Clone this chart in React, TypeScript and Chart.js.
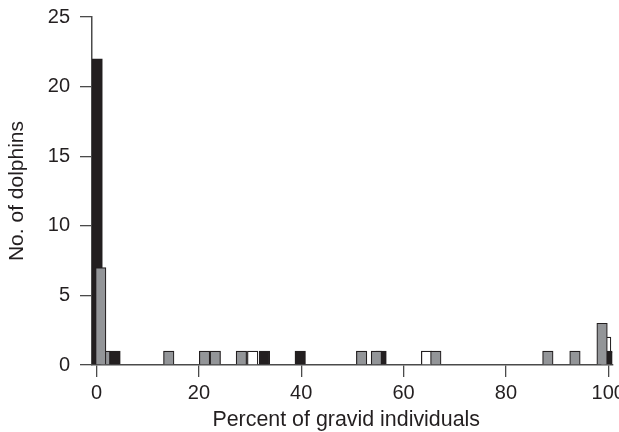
import { useEffect, useRef } from 'react';
import { Chart, registerables } from 'chart.js';

Chart.register(...registerables);

// bars: [percent of gravid individuals, no. of dolphins]
const blackBars = [[0.1, 22], [3.6, 1], [32.8, 1], [39.8, 1], [55.6, 1], [100.4, 1]];
const grayBars = [
  [1.6, 1], [0.8, 7], [14.1, 1], [21.1, 1], [23.2, 1], [28.3, 1],
  [51.8, 1], [54.7, 1], [66.3, 1], [88.2, 1], [93.5, 1], [98.8, 3],
];
const whiteBars = [[30.5, 1], [64.5, 1], [99.5, 2]];

const xTickValues = [0, 20, 40, 60, 80, 100];
const yTickValues = [0, 5, 10, 15, 20, 25];

const ink = '#231f20';
const axisColor = '#4a4a4a';
const fontFamily = '"Liberation Sans", Arial, Helvetica, sans-serif';

const toPoints = (list: number[][]) => list.map(([x, y]) => ({ x, y }));

const App = () => {
  const canvasRef = useRef<HTMLCanvasElement | null>(null);

  useEffect(() => {
    document.body.style.margin = '0';
    if (!canvasRef.current) return;

    const barStyle = {
      borderColor: ink,
      borderWidth: 1.2,
      barThickness: 10.5,
      grouped: false,
    };

    const chart = new Chart(canvasRef.current, {
      type: 'bar',
      data: {
        datasets: [
          // first dataset is drawn on top
          { label: 'gray', data: toPoints(grayBars), backgroundColor: '#939598', ...barStyle },
          { label: 'black', data: toPoints(blackBars), backgroundColor: ink, ...barStyle },
          { label: 'white', data: toPoints(whiteBars), backgroundColor: '#ffffff', ...barStyle },
        ],
      },
      options: {
        animation: false,
        responsive: true,
        maintainAspectRatio: false,
        layout: { padding: { top: 17, right: 27.7, bottom: 0, left: 0 } },
        plugins: {
          legend: { display: false },
          tooltip: { enabled: false },
        },
        scales: {
          x: {
            type: 'linear',
            offset: false,
            min: -0.9,
            max: 100.8,
            afterBuildTicks: (scale: any) => {
              scale.ticks = xTickValues.map((v) => ({ value: v }));
            },
            afterFit: (scale: any) => {
              scale.height = 80;
            },
            grid: {
              offset: false,
              drawOnChartArea: false,
              drawTicks: true,
              tickLength: 12,
              color: axisColor,
              lineWidth: 1.3,
            },
            border: { display: true, color: axisColor, width: 1.5 },
            ticks: {
              color: ink,
              padding: 4,
              maxRotation: 0,
              autoSkip: false,
              font: { family: fontFamily, size: 20 },
            },
            title: {
              display: true,
              // trailing spaces nudge the centred title a little to the left
              text: 'Percent of gravid individuals  ',
              color: ink,
              padding: { top: 0, bottom: 12 },
              font: { family: fontFamily, size: 21.4 },
            },
          },
          y: {
            min: 0,
            max: 25,
            afterBuildTicks: (scale: any) => {
              scale.ticks = yTickValues.map((v) => ({ value: v }));
            },
            afterFit: (scale: any) => {
              scale.width = 92;
              scale.paddingTop = 0;
              scale.paddingBottom = 0;
            },
            grid: {
              drawOnChartArea: false,
              drawTicks: true,
              tickLength: 12,
              color: axisColor,
              lineWidth: 1.3,
            },
            border: { display: true, color: axisColor, width: 1.5 },
            ticks: {
              color: ink,
              padding: 10,
              font: { family: fontFamily, size: 20 },
            },
            title: {
              display: true,
              text: 'No. of dolphins',
              color: ink,
              padding: { top: 5, bottom: 0 },
              font: { family: fontFamily, size: 21 },
            },
          },
        },
      },
    } as any);

    return () => {
      chart.destroy();
    };
  }, []);

  return (
    <div style={{ width: 619, height: 432, overflow: 'hidden', background: '#fff' }}>
      <div style={{ position: 'relative', width: 640, height: 445 }}>
        <canvas ref={canvasRef}></canvas>
      </div>
    </div>
  );
};

export default App;
